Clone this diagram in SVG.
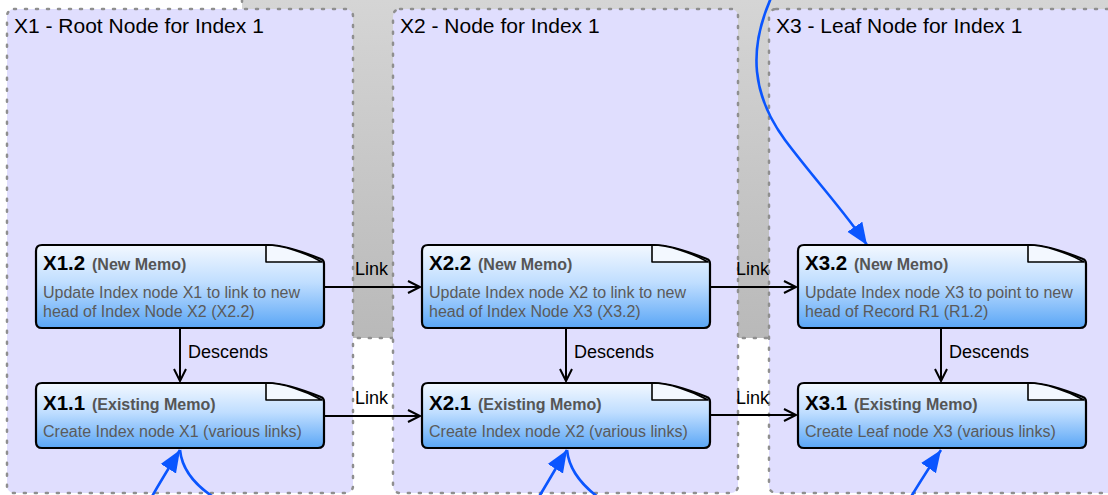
<svg xmlns="http://www.w3.org/2000/svg" xmlns:xlink="http://www.w3.org/1999/xlink" width="1108" height="495" viewBox="0 0 1108 495">
<defs>
<style>
.cont{fill:#e0defe;stroke:#8f8f8f;stroke-width:2.5;stroke-dasharray:2 9;stroke-linecap:round}
.bg{fill:url(#gray);stroke:#8f8f8f;stroke-width:2.5;stroke-dasharray:2 9;stroke-linecap:round}
.ctitle{font-family:"Liberation Sans",Arial,Helvetica,sans-serif;font-size:21px;fill:#000}
.body{fill:url(#blue);stroke:#000;stroke-width:2.2;stroke-linejoin:round}
.fold{fill:#f3f8ff;stroke:#000;stroke-width:1.6;stroke-linejoin:round}
.nt{font-family:"Liberation Sans",Arial,Helvetica,sans-serif;font-size:20.5px;font-weight:bold;fill:#000}
.ns{font-family:"Liberation Sans",Arial,Helvetica,sans-serif;font-size:16px;font-weight:bold;fill:#555}
.nb{font-family:"Liberation Sans",Arial,Helvetica,sans-serif;font-size:16px;fill:#5a5a5a}
.lbl{font-family:"Liberation Sans",Arial,Helvetica,sans-serif;font-size:18px;fill:#000}
.edge{fill:none;stroke:#000;stroke-width:2;marker-end:url(#open)}
.blue{fill:none;stroke:#0a55ff;stroke-width:2.6}
.blueA{fill:none;stroke:#0a55ff;stroke-width:2.6;marker-end:url(#solid)}
</style>
<linearGradient id="gray" gradientUnits="userSpaceOnUse" x1="0" y1="0" x2="0" y2="338">
<stop offset="0" stop-color="#d5d5d5"/>
<stop offset="1" stop-color="#b9b9b9"/>
</linearGradient>
<linearGradient id="blue" x1="0" y1="0" x2="0" y2="1">
<stop offset="0" stop-color="#f3f8ff"/>
<stop offset="0.45" stop-color="#c0deff"/>
<stop offset="1" stop-color="#5aa6f6"/>
</linearGradient>
<marker id="open" markerUnits="userSpaceOnUse" markerWidth="16" markerHeight="16" refX="13" refY="7" orient="auto" viewBox="0 0 16 14">
<path d="M1 1 L13 7 L1 13" fill="none" stroke="#000" stroke-width="2"/>
</marker>
<marker id="solid" markerUnits="userSpaceOnUse" markerWidth="24" markerHeight="20" refX="22" refY="9" orient="auto" viewBox="0 0 24 18">
<path d="M0 0 L22 9 L0 18 Z" fill="#0a55ff"/>
</marker>
<path id="tallBody" d="M6 0 H232 C247 0 270 8 285 14 Q288 15 288 19 V77 Q288 83 282 83 H6 Q0 83 0 77 V6 Q0 0 6 0 Z"/>
<path id="shortBody" d="M6 0 H232 C247 0 270 8 285 14 Q288 15 288 19 V59 Q288 65 282 65 H6 Q0 65 0 59 V6 Q0 0 6 0 Z"/>
<path id="foldShape" d="M230 0 V17 H286 C270 8 247 0 230 0 Z"/>
</defs>
<rect x="0" y="0" width="1108" height="495" fill="#ffffff"/>
<rect class="bg" x="242" y="-50" width="900" height="388" rx="7"/>
<g id="container_x1">
<rect class="cont" x="7" y="9" width="346" height="484" rx="7"/>
<text class="ctitle" x="14" y="33">X1 - Root Node for Index 1</text>
</g>
<g id="container_x2">
<rect class="cont" x="393" y="9" width="345" height="484" rx="7"/>
<text class="ctitle" x="400" y="33">X2 - Node for Index 1</text>
</g>
<g id="container_x3">
<rect class="cont" x="769" y="9" width="360" height="484" rx="7"/>
<text class="ctitle" x="776" y="33">X3 - Leaf Node for Index 1</text>
</g>
<g id="connectors">
<path class="edge" d="M180 329 V381"/>
<path class="edge" d="M566 329 V381"/>
<path class="edge" d="M941 329 V381"/>
<path class="edge" d="M325 287 H420"/>
<path class="edge" d="M325 416 H420"/>
<path class="edge" d="M711 287 H796"/>
<path class="edge" d="M711 415 H796"/>
<text class="lbl" x="188" y="358">Descends</text>
<text class="lbl" x="574" y="358">Descends</text>
<text class="lbl" x="949" y="358">Descends</text>
<text class="lbl" x="355" y="275">Link</text>
<text class="lbl" x="355" y="404">Link</text>
<text class="lbl" x="736" y="275">Link</text>
<text class="lbl" x="736" y="404">Link</text>
<path class="blueA" d="M771 -2 C748 50 752 95 785 140 C815 180 845 212 867 245"/>
<path class="blueA" d="M150 500 C160 482 170 466 180 450"/>
<path class="blue" d="M180 450 C182 470 195 486 218 500"/>
<path class="blueA" d="M537 500 C548 482 557 466 567 450"/>
<path class="blue" d="M567 450 C569 470 582 486 602 500"/>
<path class="blueA" d="M909 500 C920 482 930 466 941 450"/>
</g>
<g id="x1_2" transform="translate(36,245)">
<use xlink:href="#tallBody" class="body"/>
<use xlink:href="#foldShape" class="fold"/>
<text class="nt" x="7" y="25">X1.2</text>
<text class="ns" x="56" y="25">(New Memo)</text>
<text class="nb" x="7" y="53">Update Index node X1 to link to new</text>
<text class="nb" x="7" y="72">head of Index Node X2 (X2.2)</text>
</g>
<g id="x1_1" transform="translate(36,383)">
<use xlink:href="#shortBody" class="body"/>
<use xlink:href="#foldShape" class="fold"/>
<text class="nt" x="7" y="27">X1.1</text>
<text class="ns" x="56" y="27">(Existing Memo)</text>
<text class="nb" x="7" y="54">Create Index node X1 (various links)</text>
</g>
<g id="x2_2" transform="translate(422,245)">
<use xlink:href="#tallBody" class="body"/>
<use xlink:href="#foldShape" class="fold"/>
<text class="nt" x="7" y="25">X2.2</text>
<text class="ns" x="56" y="25">(New Memo)</text>
<text class="nb" x="7" y="53">Update Index node X2 to link to new</text>
<text class="nb" x="7" y="72">head of Index Node X3 (X3.2)</text>
</g>
<g id="x2_1" transform="translate(422,383)">
<use xlink:href="#shortBody" class="body"/>
<use xlink:href="#foldShape" class="fold"/>
<text class="nt" x="7" y="27">X2.1</text>
<text class="ns" x="56" y="27">(Existing Memo)</text>
<text class="nb" x="7" y="54">Create Index node X2 (various links)</text>
</g>
<g id="x3_2" transform="translate(798,245)">
<use xlink:href="#tallBody" class="body"/>
<use xlink:href="#foldShape" class="fold"/>
<text class="nt" x="7" y="25">X3.2</text>
<text class="ns" x="56" y="25">(New Memo)</text>
<text class="nb" x="7" y="53">Update Index node X3 to point to new</text>
<text class="nb" x="7" y="72">head of Record R1 (R1.2)</text>
</g>
<g id="x3_1" transform="translate(798,383)">
<use xlink:href="#shortBody" class="body"/>
<use xlink:href="#foldShape" class="fold"/>
<text class="nt" x="7" y="27">X3.1</text>
<text class="ns" x="56" y="27">(Existing Memo)</text>
<text class="nb" x="7" y="54">Create Leaf node X3 (various links)</text>
</g>
</svg>
